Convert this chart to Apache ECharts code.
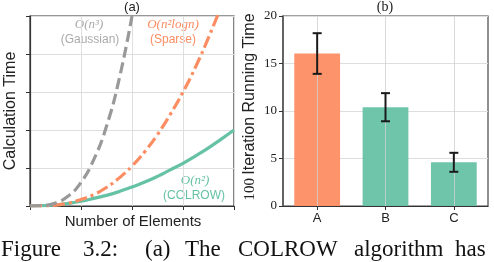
<!DOCTYPE html>
<html>
<head>
<meta charset="utf-8">
<script src="https://cdn.jsdelivr.net/npm/echarts@6/dist/echarts.min.js"></script>
<style>
html,body{margin:0;padding:0;background:#fff;}
#c{width:494px;height:262px;}
</style>
</head>
<body>
<div id="c"></div>
<script>
// ---- data: panel (a) ----
const nElements   = [0, 0.25, 0.5, 0.75, 1.0, 1.25, 1.5, 1.75, 2.0, 2.25, 2.5, 2.75, 3.0, 3.25, 3.5, 3.75, 4.0];
const gaussianY   = [0, 0.01, 0.08, 0.26, 0.62, 1.22, 2.1, 3.35, 5.0];
const sparseY     = [0, 0.003, 0.024, 0.076, 0.17, 0.30, 0.49, 0.74, 1.05, 1.43, 1.88, 2.41, 3.0, 3.67, 4.43, 5.26];
const colrowY     = [0, 0.008, 0.03, 0.07, 0.125, 0.2, 0.28, 0.38, 0.5, 0.63, 0.78, 0.95, 1.12, 1.32, 1.53, 1.76, 2.0];
const xTicksA     = [0, 1, 2, 3, 4];
const yTicksA     = [0, 1, 2, 3, 4, 5];
// ---- data: panel (b) ----
const methods     = ['A', 'B', 'C'];
const runTimes    = [16.05, 10.4, 4.6];
const runErrors   = [2.14, 1.48, 1.0];
const yTicksB     = [0, 5, 10, 15, 20];
const barColors   = ['#fc8d62', '#66c2a5', '#66c2a5'];

const pair = (ys) => ys.map((y, i) => [nElements[i], y]);
const SANS = '"Liberation Sans", Arial, sans-serif';
const SERIF = '"Liberation Serif", "Times New Roman", serif';

const chart = echarts.init(document.getElementById('c'), null, {renderer: 'canvas'});

const gridLine = {show: true, lineStyle: {color: '#dedede', width: 1}};
const caption = [
  ['Figure', 1], ['3.2:', 83], ['(a)', 145], ['The', 185],
  ['COLROW', 238], ['algorithm', 354], ['has', 455]
];

chart.setOption({
  animation: false,
  backgroundColor: '#fff',
  grid: [
    {left: 30, top: 16, width: 204, height: 190, show: true, borderColor: '#333', borderWidth: 1.2, backgroundColor: 'transparent'},
    {left: 283, top: 16, width: 205, height: 190, show: true, borderColor: '#444', borderWidth: 1.2, backgroundColor: 'transparent'}
  ],
  xAxis: [
    {gridIndex: 0, type: 'value', min: xTicksA[0], max: xTicksA[xTicksA.length - 1], interval: 1,
     axisLine: {show: true, lineStyle: {color: '#333', width: 1.2}},
     axisTick: {show: true, inside: false, length: 4, lineStyle: {color: '#333'}},
     axisLabel: {show: false}, splitLine: gridLine},
    {gridIndex: 1, type: 'category', data: methods, boundaryGap: true,
     axisLine: {show: true, lineStyle: {color: '#333', width: 1.2}},
     axisTick: {show: true, alignWithLabel: true, length: 4, lineStyle: {color: '#333'}},
     axisLabel: {show: true, color: '#222', fontFamily: SANS, fontSize: 13, margin: 6},
     splitLine: {show: false}}
  ],
  yAxis: [
    {gridIndex: 0, type: 'value', min: yTicksA[0], max: yTicksA[yTicksA.length - 1], interval: 1,
     axisLine: {show: true, lineStyle: {color: '#333', width: 1.2}},
     axisTick: {show: true, inside: false, length: 4, lineStyle: {color: '#333'}},
     axisLabel: {show: false}, splitLine: gridLine},
    {gridIndex: 1, type: 'value', min: yTicksB[0], max: yTicksB[yTicksB.length - 1], interval: 5,
     axisLine: {show: true, lineStyle: {color: '#555', width: 1.5}},
     axisTick: {show: true, inside: false, length: 4, lineStyle: {color: '#333'}},
     axisLabel: {show: true, color: '#222', fontFamily: SERIF, fontSize: 13, margin: 6},
     splitLine: gridLine}
  ],
  series: [
    {type: 'line', xAxisIndex: 0, yAxisIndex: 0, data: pair(colrowY), smooth: true, symbol: 'none',
     lineStyle: {color: '#66c2a5', width: 3.2}, z: 3},
    {type: 'line', xAxisIndex: 0, yAxisIndex: 0, data: pair(sparseY), smooth: true, symbol: 'none',
     lineStyle: {color: '#fc8d62', width: 3.2, type: [12, 4, 3, 4]}, z: 3},
    {type: 'line', xAxisIndex: 0, yAxisIndex: 0, data: pair(gaussianY), smooth: true, symbol: 'none',
     lineStyle: {color: '#999999', width: 3.2, type: [11, 5]}, z: 3},
    {type: 'bar', xAxisIndex: 1, yAxisIndex: 1, barWidth: '67%',
     data: runTimes.map((v, i) => ({value: v, itemStyle: {color: barColors[i], opacity: 0.95}})), z: 2,
     markLine: {silent: true, symbol: 'none', label: {show: false},
       lineStyle: {color: '#cfcfcf', width: 1, type: 'solid', opacity: 0.8},
       data: methods.map(m => ({xAxis: m}))}},
    {type: 'custom', xAxisIndex: 1, yAxisIndex: 1, z: 5,
     data: runTimes.map((v, i) => [i, v - runErrors[i], v + runErrors[i]]),
     renderItem: function (params, api) {
       const x = api.value(0);
       const lo = api.coord([x, api.value(1)]);
       const hi = api.coord([x, api.value(2)]);
       const cw = 4.5;
       const st = {stroke: '#1a1a1a', lineWidth: 2};
       return {type: 'group', children: [
         {type: 'line', shape: {x1: lo[0], y1: lo[1], x2: hi[0], y2: hi[1]}, style: st},
         {type: 'line', shape: {x1: hi[0] - cw, y1: hi[1], x2: hi[0] + cw, y2: hi[1]}, style: st},
         {type: 'line', shape: {x1: lo[0] - cw, y1: lo[1], x2: lo[0] + cw, y2: lo[1]}, style: st}
       ]};
     }}
  ],
  graphic: [
    {type: 'text', x: 132, y: 7, style: {text: '(a)', font: '13px ' + SANS, fill: '#222', align: 'center', verticalAlign: 'middle'}},
    {type: 'text', x: 385, y: 7, style: {text: '(b)', font: '14px ' + SERIF, fill: '#222', align: 'center', verticalAlign: 'middle'}},
    {type: 'text', x: 133, y: 222, style: {text: 'Number of Elements', font: '15px ' + SANS, fill: '#222', align: 'center', verticalAlign: 'middle'}},
    {type: 'text', x: 11, y: 111, rotation: Math.PI / 2, style: {text: 'Calculation Time', font: '16px ' + SANS, fill: '#222', align: 'center', verticalAlign: 'middle'}},
    {type: 'text', x: 250, y: 107, rotation: Math.PI / 2, style: {
      text: '{s|100} {t|Iteration Running Time}', align: 'center', verticalAlign: 'middle',
      rich: {s: {font: '15px ' + SERIF, fill: '#222'}, t: {font: '16px ' + SANS, fill: '#222'}}}},
    {type: 'text', x: 89, y: 25, style: {text: 'O(n³)', font: 'italic 13px ' + SERIF, fill: '#aaaaaa', align: 'center', verticalAlign: 'middle'}},
    {type: 'text', x: 90, y: 40, style: {text: '(Gaussian)', font: '12px ' + SANS, fill: '#aaaaaa', align: 'center', verticalAlign: 'middle'}},
    {type: 'text', x: 173, y: 25, style: {text: 'O(n²logn)', font: 'italic 13px ' + SERIF, fill: '#fc8d62', align: 'center', verticalAlign: 'middle'}},
    {type: 'text', x: 173, y: 40, style: {text: '(Sparse)', font: '12px ' + SANS, fill: '#fc8d62', align: 'center', verticalAlign: 'middle'}},
    {type: 'text', x: 195, y: 181, style: {text: 'O(n²)', font: 'italic 13px ' + SERIF, fill: '#66c2a5', align: 'center', verticalAlign: 'middle'}},
    {type: 'text', x: 194, y: 196, style: {text: '(COLROW)', font: '12px ' + SANS, fill: '#66c2a5', align: 'center', verticalAlign: 'middle'}}
  ].concat(caption.map(([w, x]) => ({type: 'text', x: x, y: 250,
    style: {text: w, font: '23px ' + SERIF, fill: '#111', align: 'left', verticalAlign: 'middle'}})))
});
</script>
</body>
</html>
